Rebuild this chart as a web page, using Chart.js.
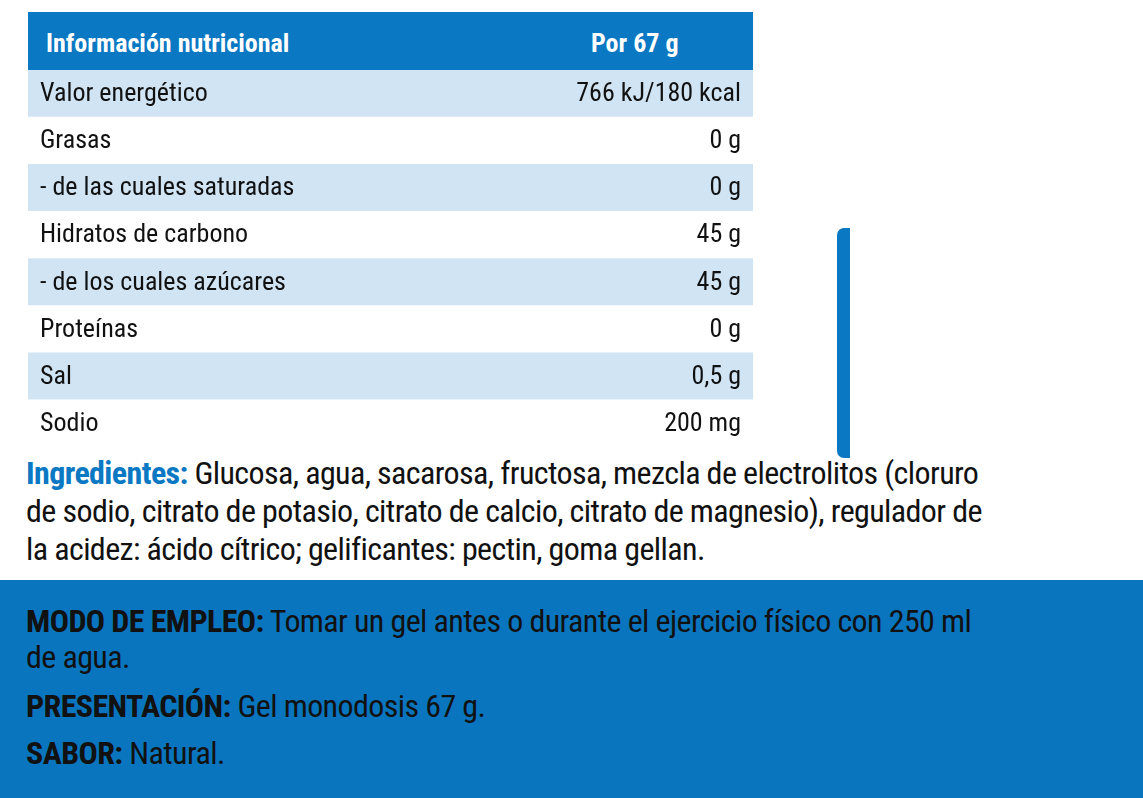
<!DOCTYPE html>
<html><head><meta charset="utf-8">
<script src="https://cdn.jsdelivr.net/npm/chart.js@4/dist/chart.umd.min.js"></script>
<style>
body{margin:0;width:1143px;height:798px;background:#fff;position:relative;overflow:hidden;font-family:"Liberation Sans Narrow","Roboto Condensed",Roboto,sans-serif;}
#hdr{position:absolute;left:28px;top:12px;width:725px;height:58px;background:#0a78c2;color:#fff;font-weight:bold;font-size:26px;}
#hdr span{position:absolute;top:16px;}
#wrap{position:absolute;left:28px;top:70px;width:725px;height:377px;}
#vbar{position:absolute;left:837px;top:228px;width:13px;height:230px;background:#0a78c2;border-radius:7px 0 0 7px;}
#ing{position:absolute;left:26px;top:454px;width:1120px;font-size:32px;line-height:38px;color:#111;white-space:nowrap;letter-spacing:-0.6px;}
#ing b{color:#0a78c2}
#bot{position:absolute;left:0;top:580px;width:1143px;height:218px;background:#0a75bf;color:#111;font-size:32px;letter-spacing:-0.6px;}
#bot p{position:absolute;left:26px;margin:0;line-height:36px;white-space:nowrap;}
</style></head><body>
<div id="hdr"><span style="left:18px">Información nutricional</span><span style="left:563px">Por 67 g</span></div>
<div id="wrap"><canvas id="c"></canvas></div>
<div id="vbar"></div>
<div id="ing"><b>Ingredientes:</b> Glucosa, agua, sacarosa, fructosa, mezcla de electrolitos (cloruro<br>de sodio, citrato de potasio, citrato de calcio, citrato de magnesio), regulador de<br>la acidez: ácido cítrico; gelificantes: pectin, goma gellan.</div>
<div id="bot">
<p style="top:23px"><b>MODO DE EMPLEO:</b> Tomar un gel antes o durante el ejercicio físico con 250 ml<br>de agua.</p>
<p style="top:108px"><b>PRESENTACIÓN:</b> Gel monodosis 67 g.</p>
<p style="top:155px"><b>SABOR:</b> Natural.</p>
</div>
<script>
const rowLabels=["Valor energético","Grasas","- de las cuales saturadas","Hidratos de carbono","- de los cuales azúcares","Proteínas","Sal","Sodio"];
const rowValues=["766 kJ/180 kcal","0 g","0 g","45 g","45 g","0 g","0,5 g","200 mg"];
const stripe=[1,1,1,1,1,1,1,1];
const textPlugin={id:'txt',afterDatasetsDraw(ch){
 const ctx=ch.ctx,y=ch.scales.y;ctx.save();
 ctx.font='26px "Liberation Sans Narrow","Roboto Condensed",Roboto,sans-serif';ctx.fillStyle='#111';ctx.textBaseline='middle';
 rowLabels.forEach((l,i)=>{const py=y.getPixelForValue(i)+1;ctx.textAlign='left';ctx.fillText(l,12,py);ctx.textAlign='right';ctx.fillText(rowValues[i],713,py);});
 ctx.restore();}};
new Chart(document.getElementById('c'),{type:'bar',
 data:{labels:rowLabels,datasets:[{data:stripe,backgroundColor:rowLabels.map((_,i)=>i%2===0?'#d0e4f4':'#ffffff'),barPercentage:1,categoryPercentage:1,borderWidth:0}]},
 options:{indexAxis:'y',responsive:true,maintainAspectRatio:false,animation:false,layout:{padding:0},
  plugins:{legend:{display:false},tooltip:{enabled:false}},
  scales:{x:{display:false,min:0,max:1},y:{display:false}}},
 plugins:[textPlugin]});
</script>
</body></html>
